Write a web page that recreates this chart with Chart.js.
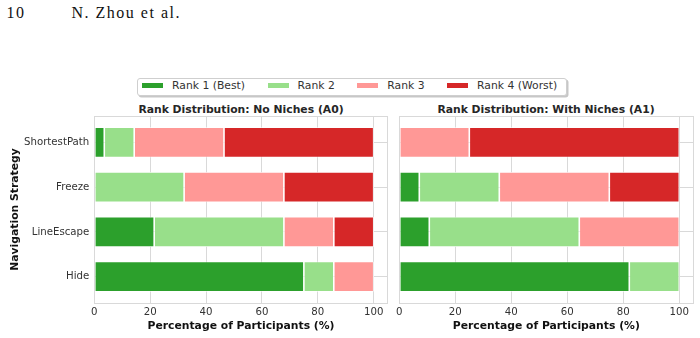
<!DOCTYPE html>
<html>
<head>
<meta charset="utf-8">
<script src="https://cdn.jsdelivr.net/npm/chart.js@4/dist/chart.umd.min.js"></script>
<style>
  body { margin: 0; width: 700px; height: 338px; position: relative; overflow: hidden; background: #fff; }
  .head { position: absolute; top: 5px; font: 16px "Liberation Serif", serif; line-height: 16px; color: #111; letter-spacing: 1.5px; }
  #legend {
    position: absolute; left: 137px; top: 78px; height: 18px; box-sizing: border-box;
    border: 1px solid #cfcfcf; border-radius: 3px; background: #fff;
    box-shadow: 1.5px 1.5px 0 rgba(0, 0, 0, 0.22);
    display: flex; align-items: flex-start; padding: 0.5px 9px 0 4px;
    font: 10.8px "DejaVu Sans", sans-serif; color: #333;
  }
  .item { display: flex; align-items: center; height: 12px; line-height: 12px; margin-right: 22.5px; white-space: nowrap; }
  .item:last-child { margin-right: 0; }
  .swatch { width: 21px; height: 5.4px; margin-right: 9px; }
  .panel-title { position: absolute; top: 102.5px; text-align: center; font: bold 10.8px "DejaVu Sans", sans-serif; line-height: 13px; color: #262626; white-space: nowrap; }
  canvas { position: absolute; top: 100px; }
</style>
</head>
<body>
<div class="head" style="left:6.5px">10</div>
<div class="head" style="left:71.5px">N. Zhou et al.</div>
<div id="legend"></div>
<div class="panel-title" style="left:94px;width:294px">Rank Distribution: No Niches (A0)</div>
<div class="panel-title" style="left:399px;width:294px">Rank Distribution: With Niches (A1)</div>
<canvas id="chartA0" width="392" height="238" style="left:0"></canvas>
<canvas id="chartA1" width="308" height="238" style="left:392px"></canvas>
<script>
const strategies = ["ShortestPath", "Freeze", "LineEscape", "Hide"];
const rankLabels = ["Rank 1 (Best)", "Rank 2", "Rank 3", "Rank 4 (Worst)"];
const rankColors = ["#2ca02c", "#98df8a", "#ff9896", "#d62728"];
const xTicks = [0, 20, 40, 60, 80, 100];

// percentages per strategy, in the order of strategies
const a0Rank1 = [3.57, 0, 21.43, 75.0];
const a0Rank2 = [10.71, 32.14, 46.43, 10.71];
const a0Rank3 = [32.14, 35.71, 17.86, 14.29];
const a0Rank4 = [53.57, 32.14, 14.29, 0];

const a1Rank1 = [0, 7.14, 10.71, 82.14];
const a1Rank2 = [0, 28.57, 53.57, 17.86];
const a1Rank3 = [25.0, 39.29, 35.71, 0];
const a1Rank4 = [75.0, 25.0, 0, 0];

const gridColor = "#d9d9d9";
const textColor = "#333";

function buildLegend() {
  const legend = document.getElementById("legend");
  rankLabels.forEach((label, i) => {
    const item = document.createElement("div");
    item.className = "item";
    const sw = document.createElement("span");
    sw.className = "swatch";
    sw.style.background = rankColors[i];
    const txt = document.createElement("span");
    txt.textContent = label;
    item.appendChild(sw);
    item.appendChild(txt);
    legend.appendChild(item);
  });
}

const framePlugin = {
  id: "frame",
  afterDatasetsDraw(chart) {
    const { ctx, chartArea: a } = chart;
    ctx.save();
    ctx.strokeStyle = gridColor;
    ctx.lineWidth = 1;
    ctx.strokeRect(Math.round(a.left) + 0.5, Math.round(a.top) + 0.5,
      Math.round(a.right - a.left), Math.round(a.bottom - a.top));
    ctx.restore();
  },
};

function makeDatasets(series) {
  return series.map((values, i) => ({
    label: rankLabels[i],
    data: values.map((v, j) => ({ x: v, y: j })),
    backgroundColor: rankColors[i],
    borderColor: "#ffffff",
    borderWidth: 0.8,
    borderSkipped: false,
    categoryPercentage: 1,
    barPercentage: 0.68,
  }));
}

function createPanel(canvasId, series, showLabels, padding) {
  return new Chart(document.getElementById(canvasId), {
    type: "bar",
    data: { datasets: makeDatasets(series) },
    plugins: [framePlugin],
    options: {
      indexAxis: "y",
      responsive: false,
      animation: false,
      devicePixelRatio: 1,
      layout: { padding },
      plugins: { legend: { display: false }, tooltip: { enabled: false } },
      scales: {
        x: {
          type: "linear",
          stacked: true,
          offset: false,
          min: 0,
          max: 105,
          afterBuildTicks: (scale) => { scale.ticks = xTicks.map((v) => ({ value: v })); },
          afterFit: (scale) => { scale.height = 35; },
          grid: { color: gridColor, drawTicks: false, offset: false },
          border: { display: false },
          ticks: { padding: 3, color: textColor, font: { family: "DejaVu Sans", size: 10.2 } },
          title: {
            display: true,
            text: "Percentage of Participants (%)",
            color: "#111",
            font: { family: "DejaVu Sans", size: 10.8, weight: "bold" },
            padding: { top: 0, bottom: 5.8 },
          },
        },
        y: {
          type: "linear",
          stacked: true,
          reverse: true,
          offset: false,
          min: -0.59,
          max: 3.59,
          afterBuildTicks: (scale) => { scale.ticks = strategies.map((s, i) => ({ value: i })); },
          afterFit: (scale) => { scale.width = showLabels ? 94.3 : 0; },
          grid: { color: gridColor, drawTicks: false, offset: false },
          border: { display: false },
          ticks: {
            display: showLabels,
            padding: 5,
            color: textColor,
            font: { family: "DejaVu Sans", size: 10.2 },
            callback: (v) => strategies[v],
          },
          title: {
            display: showLabels,
            text: "Navigation Strategy",
            color: "#111",
            font: { family: "DejaVu Sans", size: 10.8, weight: "bold" },
            padding: { top: 8.5, bottom: 0 },
          },
        },
      },
    },
  });
}

buildLegend();
createPanel("chartA0", [a0Rank1, a0Rank2, a0Rank3, a0Rank4], true, { left: 0, right: 4.3, top: 16, bottom: 0 });
createPanel("chartA1", [a1Rank1, a1Rank2, a1Rank3, a1Rank4], false, { left: 7.3, right: 6.7, top: 16, bottom: 0 });
</script>
</body>
</html>
